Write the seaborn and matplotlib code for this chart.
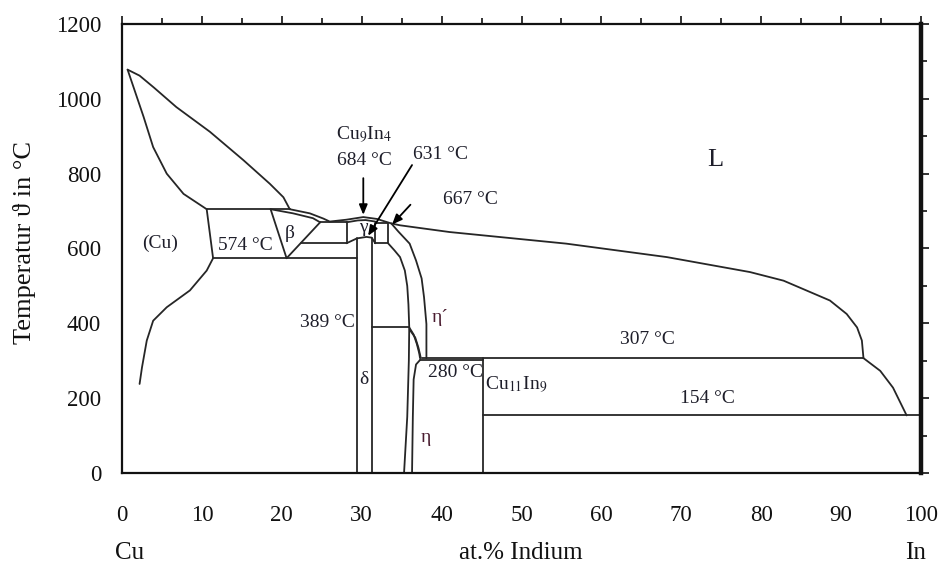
import matplotlib
matplotlib.use("Agg")
import matplotlib.pyplot as plt
import numpy as np
import pandas as pd
import seaborn as sns

# ---- phase boundaries of the Cu-In system (x: at.% In, T: deg C) ----
cu_liquidus_x = [0.7, 2.2, 4.0, 6.8, 11.0, 15.2, 18.5, 20.2, 21.0]
cu_liquidus_T = [1078, 1062, 1030, 978, 912, 836, 773, 737, 705]
cu_solidus_x = [0.7, 2.7, 3.9, 5.6, 7.7, 10.6]
cu_solidus_T = [1078, 952, 871, 800, 746, 705]
cu_solvus_x = [10.6, 11.4, 10.6, 8.5, 5.6, 3.9, 3.1, 2.5, 2.2]
cu_solvus_T = [705, 574, 541, 488, 443, 407, 354, 282, 238]

liquidus_x = [21.0, 23.5, 25.2, 26.0, 28.1, 30.2, 31.9, 33.7, 34.8, 41.0, 55.6,
              68.2, 78.6, 82.8, 88.6, 90.7, 92.0, 92.6, 92.8]
liquidus_T = [705, 694, 680, 672, 677, 684, 679, 667, 662, 644, 613,
              577, 537, 514, 461, 425, 389, 354, 307]
in_liquidus_x = [92.8, 94.9, 96.5, 98.2]
in_liquidus_T = [307, 273, 228, 154]

beta_solidus_x = [18.6, 21.4, 23.9, 24.8]
beta_solidus_T = [705, 694, 681, 670]
beta_left_x = [18.6, 20.6]
beta_left_T = [705, 574]
beta_right_x = [24.8, 20.6]
beta_right_T = [670, 574]

gamma_top_x = [28.1, 29.5, 30.5, 31.7]
gamma_top_T = [670, 675, 676, 672]
gamma_left_x = [28.1, 28.1]
gamma_left_T = [670, 614]
delta_dome_x = [28.1, 29.4, 30.6, 31.25, 31.7]
delta_dome_T = [614, 627, 631, 629, 614]
delta_left_x = [29.4, 29.4]
delta_left_T = [627, 0]
delta_right_x = [31.25, 31.25]
delta_right_T = [629, 0]

box_x = [31.7, 31.7, 33.3, 33.3, 31.7]
box_T = [614, 667, 667, 614, 614]

eta_p_outer_x = [33.7, 34.6, 36.0, 36.8, 37.5, 37.8, 38.1, 38.1]
eta_p_outer_T = [667, 645, 613, 568, 520, 470, 398, 307]
eta_p_inner_x = [33.3, 34.1, 34.8, 35.4, 35.7, 35.85, 35.95, 35.9, 35.7, 35.3]
eta_p_inner_T = [614, 595, 577, 541, 500, 450, 389, 300, 150, 0]
eta_bulge_a_x = [35.95, 36.5, 36.9, 37.2, 37.3]
eta_bulge_a_T = [389, 370, 345, 320, 307]
eta_bulge_b_x = [36.0, 36.7, 37.1, 37.4]
eta_bulge_b_T = [383, 362, 335, 307]
eta_right_x = [37.3, 36.8, 36.5, 36.4, 36.3]
eta_right_T = [302, 290, 250, 150, 0]

cu11in9_x = [45.2, 45.2]
cu11in9_T = [307, 0]

# invariant (horizontal) reactions: (x start, x end, T)
iso_x0 = [10.6, 24.8, 22.35, 11.4, 31.25, 37.5, 37.3, 45.2]
iso_x1 = [21.0, 28.1, 28.1, 29.4, 35.95, 92.8, 45.2, 100.0]
iso_T = [705, 670, 614, 574, 389, 307, 302, 154]

curves = {
    "cu_liquidus": (cu_liquidus_x, cu_liquidus_T),
    "cu_solidus": (cu_solidus_x, cu_solidus_T),
    "cu_solvus": (cu_solvus_x, cu_solvus_T),
    "liquidus": (liquidus_x, liquidus_T),
    "in_liquidus": (in_liquidus_x, in_liquidus_T),
    "beta_solidus": (beta_solidus_x, beta_solidus_T),
    "beta_left": (beta_left_x, beta_left_T),
    "beta_right": (beta_right_x, beta_right_T),
    "gamma_top": (gamma_top_x, gamma_top_T),
    "gamma_left": (gamma_left_x, gamma_left_T),
    "delta_dome": (delta_dome_x, delta_dome_T),
    "delta_left": (delta_left_x, delta_left_T),
    "delta_right": (delta_right_x, delta_right_T),
    "box": (box_x, box_T),
    "eta_p_outer": (eta_p_outer_x, eta_p_outer_T),
    "eta_p_inner": (eta_p_inner_x, eta_p_inner_T),
    "eta_bulge_a": (eta_bulge_a_x, eta_bulge_a_T),
    "eta_bulge_b": (eta_bulge_b_x, eta_bulge_b_T),
    "eta_right": (eta_right_x, eta_right_T),
    "cu11in9": (cu11in9_x, cu11in9_T),
}

frames = [pd.DataFrame({"x": xs, "T": ts, "seg": name, "order": range(len(xs))})
          for name, (xs, ts) in curves.items()]
for i, (a, b, t) in enumerate(zip(iso_x0, iso_x1, iso_T)):
    frames.append(pd.DataFrame({"x": [a, b], "T": [t, t], "seg": f"iso{i}", "order": [0, 1]}))
lines = pd.concat(frames, ignore_index=True)

# ---- styling ----
sns.set_style("white")
serif = ["Liberation Serif", "DejaVu Serif"]
plt.rcParams["font.family"] = serif
plt.rcParams["mathtext.fontset"] = "stix"

fig = plt.figure(figsize=(9.45, 5.7), dpi=100)
ax = fig.add_axes([122 / 945, 1 - 473 / 570, (921 - 122) / 945, (473 - 24) / 570])

line_col = "#262626"
sns.lineplot(data=lines, x="x", y="T", units="seg", estimator=None, sort=False,
             color=line_col, linewidth=1.3, ax=ax, legend=False)

ax.set_xlim(0, 100)
ax.set_ylim(0, 1200)
ax.set_xlabel("")
ax.set_ylabel("")
ax.set_xticks(np.arange(0, 101, 10))
ax.set_xticks(np.arange(0, 101, 5), minor=True)
ax.set_yticks(np.arange(0, 1201, 200))
ax.set_yticks(np.arange(0, 1201, 100), minor=True)
ax.tick_params(which="both", direction="out", top=True, right=True,
               labeltop=False, labelright=False, colors="#111111", width=1.2)
ax.tick_params(which="major", length=6)
ax.tick_params(which="minor", length=4.5)
ax.tick_params(axis="x", which="major", labelsize=16.5, pad=17)
ax.tick_params(axis="y", which="major", labelsize=16.5, pad=9)
for side in ["left", "bottom", "top"]:
    ax.spines[side].set_linewidth(1.6)
    ax.spines[side].set_color("#111111")
ax.spines["right"].set_linewidth(3.2)
ax.spines["right"].set_color("#111111")

# ---- labels ----
txt = "#1e1e2a"
eta_col = "#4a1c30"
def lab(x, y, s, size=14, color=txt):
    ax.text(x, y, s, ha="center", va="center", fontsize=size, color=color)

lab(4.75, 615, "(Cu)")
lab(15.4, 607, "574 °C")
lab(21.0, 639, "β")
lab(30.2, 655, "γ")
lab(30.3, 904, "Cu$_9$In$_4$")
lab(30.3, 834, "684 °C")
lab(39.9, 850, "631 °C")
lab(43.6, 730, "667 °C")
lab(74.2, 837, "L", size=19)
lab(25.7, 401, "389 °C")
lab(30.3, 249, "δ")
lab(39.8, 415, "η´", color=eta_col)
lab(41.7, 268, "280 °C")
lab(49.4, 236, "Cu$_{11}$In$_9$")
lab(65.8, 356, "307 °C")
lab(73.3, 199, "154 °C")
lab(38.0, 94, "η", color=eta_col)

arrow = dict(arrowstyle="-|>,head_length=0.6,head_width=0.25", color="black", lw=1.3,
             shrinkA=0, shrinkB=0)
ax.annotate("", xy=(30.2, 690), xytext=(30.2, 788), arrowprops=arrow)
ax.annotate("", xy=(30.8, 634), xytext=(36.3, 823), arrowprops=arrow)
ax.annotate("", xy=(33.8, 664), xytext=(36.1, 717), arrowprops=arrow)

fig.text(25 / 945, 1 - 243 / 570, "Temperatur ϑ in °C", rotation=90,
         ha="center", va="center", fontsize=19, color="#111111")
fig.text(130 / 945, 1 - 553 / 570, "Cu", ha="center", va="center", fontsize=18, color="#111111")
fig.text(521 / 945, 1 - 553 / 570, "at.% Indium", ha="center", va="center", fontsize=18, color="#111111")
fig.text(916 / 945, 1 - 553 / 570, "In", ha="center", va="center", fontsize=18, color="#111111")

fig.savefig("out.png", dpi=100, facecolor="white")
